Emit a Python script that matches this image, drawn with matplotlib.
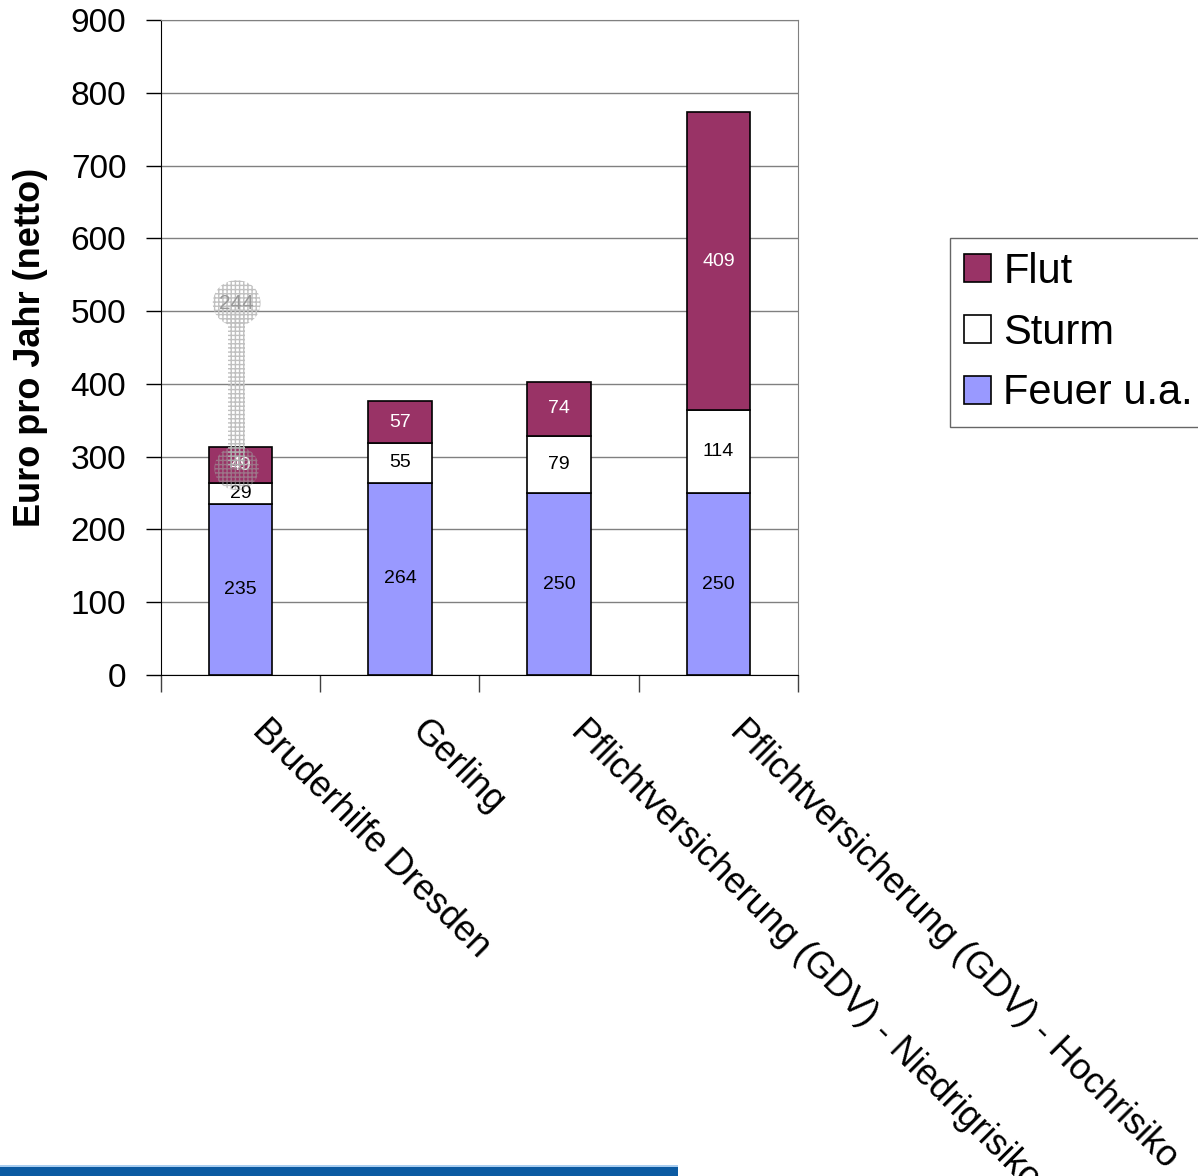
import numpy as np
import matplotlib.pyplot as plt
from matplotlib.patches import Rectangle, Ellipse

plt.rcParams['font.family'] = ['Liberation Sans', 'DejaVu Sans']

# Data (Euro pro Jahr, netto)
categories = ['Bruderhilfe Dresden', 'Gerling',
              'Pflichtversicherung (GDV) - Niedrigrisiko',
              'Pflichtversicherung (GDV) - Hochrisiko']
feuer = [235, 264, 250, 250]
sturm = [29, 55, 79, 114]
flut = [49, 57, 74, 409]
series_names = ['Feuer u.a.', 'Sturm', 'Flut']
ghost_label = '244'

c_feuer = '#9999FF'
c_sturm = '#FFFFFF'
c_flut = '#993366'

fig = plt.figure(figsize=(11.98, 11.76), dpi=100)
ax = fig.add_axes([0.1344, 0.426, 0.5317, 0.557])

x = np.arange(len(categories))
w = 0.40
feuer = np.array(feuer)
sturm = np.array(sturm)
flut = np.array(flut)

b1 = ax.bar(x, feuer, w, color=c_feuer, edgecolor='black', linewidth=1.2, zorder=3, label=series_names[0])
b2 = ax.bar(x, sturm, w, bottom=feuer, color=c_sturm, edgecolor='black', linewidth=1.2, zorder=3, label=series_names[1])
b3 = ax.bar(x, flut, w, bottom=feuer + sturm, color=c_flut, edgecolor='black', linewidth=1.2, zorder=3, label=series_names[2])

for i in range(len(x)):
    ax.text(x[i], feuer[i] / 2, str(feuer[i]), ha='center', va='center', fontsize=14, color='black', zorder=5)
    ax.text(x[i], feuer[i] + sturm[i] / 2, str(sturm[i]), ha='center', va='center', fontsize=14, color='black', zorder=5)
    ax.text(x[i], feuer[i] + sturm[i] + flut[i] / 2, str(flut[i]), ha='center', va='center', fontsize=14, color='white', zorder=5)

# stray dotted callout marker left over on the first bar
gx = x[0] - 0.025
ax.add_patch(Rectangle((gx - 0.053, 284), 0.106, 227, facecolor='none', edgecolor='#c0c0c0',
                       hatch='++++', linewidth=0, zorder=6))
ax.add_patch(Ellipse((gx, 511), 0.30, 63, facecolor='none', edgecolor='#c0c0c0',
                     hatch='++++', linewidth=0, zorder=6))
ax.add_patch(Ellipse((gx, 284), 0.28, 60, facecolor='none', edgecolor='#a0a0a0',
                     hatch='++++', linewidth=0, zorder=6, alpha=0.6))
ax.text(gx, 511, ghost_label, ha='center', va='center', fontsize=15, color='#999999', zorder=7)

ax.set_xlim(-0.5, 3.5)
ax.set_ylim(0, 900)
ax.set_yticks(np.arange(0, 901, 100))
ax.tick_params(axis='y', labelsize=24, length=11, width=1, direction='out', color='black', pad=14)
ax.yaxis.grid(True, color='#808080', linewidth=1, zorder=0)
ax.set_axisbelow(True)

ax.set_xticks(np.arange(-0.5, 3.6, 1))
ax.set_xticklabels([])
ax.tick_params(axis='x', length=12, width=1, direction='out', color='#404040')

for s in ['left', 'bottom']:
    ax.spines[s].set_color('black')
for s in ['top', 'right']:
    ax.spines[s].set_color('#808080')

# rotated category labels (the long ones run off the bottom edge, as in the original)
for i, cat in enumerate(categories):
    ax.text(x[i] + 0.185, -52, cat, rotation=-45, rotation_mode='anchor',
            ha='left', va='top', fontsize=26, transform=ax.transData, clip_on=False)

ax.set_ylabel('Euro pro Jahr (netto)', fontsize=26, fontweight='bold')
ax.yaxis.set_label_coords(-0.177, 0.5)

leg = fig.legend(handles=[b3, b2, b1], labels=[series_names[2], series_names[1], series_names[0]],
                 loc='upper left', bbox_to_anchor=(950 / 1198, 1 - 238 / 1176),
                 fontsize=30, frameon=True, fancybox=False, edgecolor='#404040',
                 handlelength=0.65, handleheight=0.65, handletextpad=0.3,
                 labelspacing=0.5, borderpad=0.33, borderaxespad=0)
leg.get_frame().set_linewidth(1)

# blue footer strip
fig.patches.append(Rectangle((0, 0), 678 / 1198, 9 / 1176, transform=fig.transFigure,
                             facecolor='#0b5aa2', edgecolor='none'))
fig.patches.append(Rectangle((0, 9 / 1176), 678 / 1198, 2 / 1176, transform=fig.transFigure,
                             facecolor='#a8cdf0', edgecolor='none'))

fig.savefig('out.png', dpi=100)
